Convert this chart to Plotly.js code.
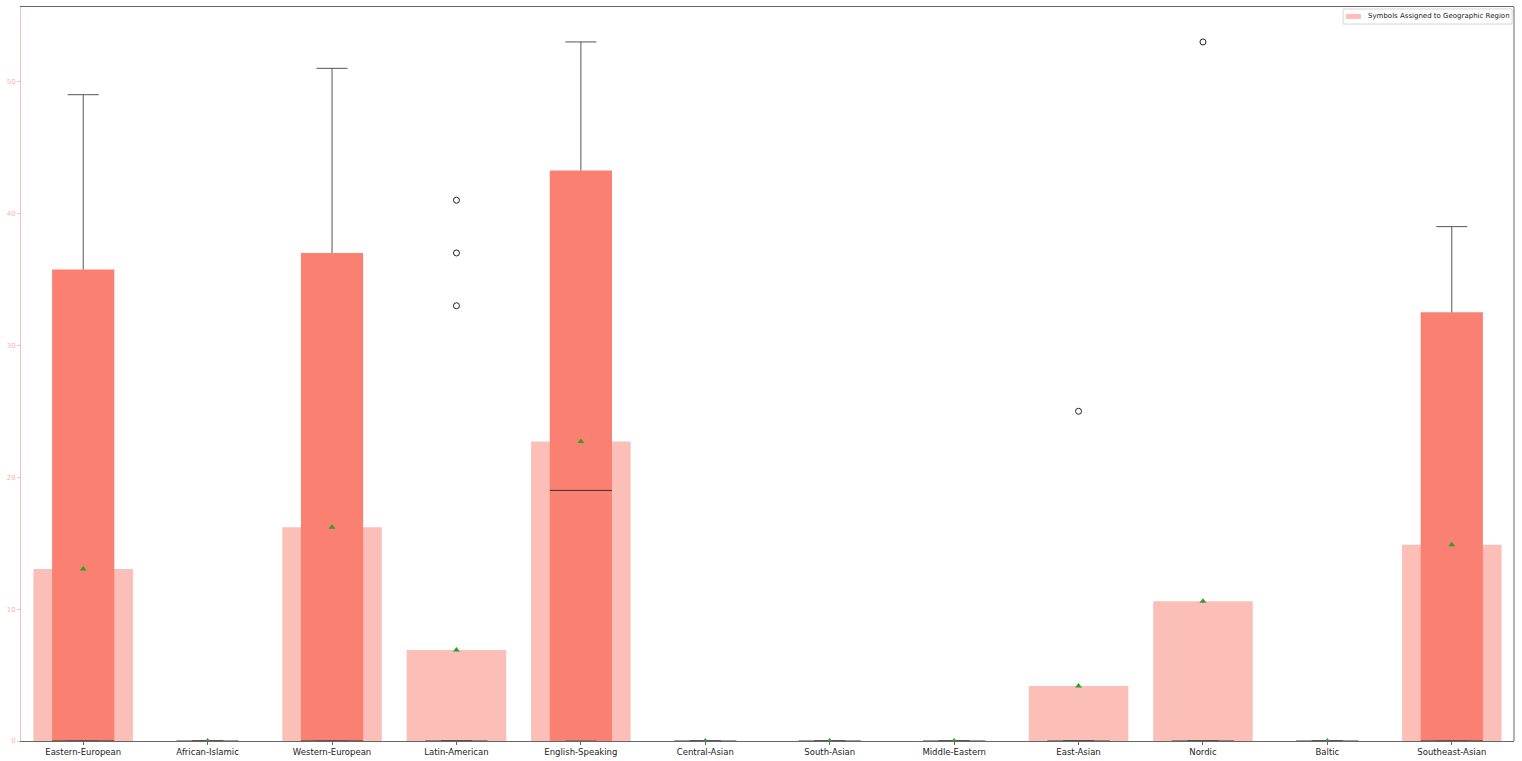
<!DOCTYPE html>
<html>
<head>
<meta charset="utf-8">
<script src="https://cdn.plot.ly/plotly-3.0.1.min.js"></script>
<style>html,body{margin:0;padding:0;background:#fff;}#chart{width:1522px;height:761px;}</style>
</head>
<body>
<div id="chart"></div>
<script>
// ---- Data ----
const categories = ["Eastern-European","African-Islamic","Western-European","Latin-American","English-Speaking","Central-Asian","South-Asian","Middle-Eastern","East-Asian","Nordic","Baltic","Southeast-Asian"];
const meanValues   = [13.05, 0, 16.2, 6.9, 22.7, 0, 0, 0, 4.17, 10.6, 0, 14.87];
const q1Values     = [0, 0, 0, 0, 0, 0, 0, 0, 0, 0, 0, 0];
const medianValues = [0, 0, 0, 0, 19, 0, 0, 0, 0, 0, 0, 0];
const q3Values     = [35.75, 0, 37.0, 0, 43.25, 0, 0, 0, 0, 0, 0, 32.5];
const whiskerLow   = [0, 0, 0, 0, 0, 0, 0, 0, 0, 0, 0, 0];
const whiskerHigh  = [49, 0, 51, 0, 53, 0, 0, 0, 0, 0, 0, 39];
const outlierCategory = ["Latin-American","Latin-American","Latin-American","East-Asian","Nordic"];
const outlierValues   = [41, 37, 33, 25, 53];
const legendLabel = "Symbols Assigned to Geographic Region";

// ---- Build traces ----
const pos = categories.map((c, i) => i + 1);
const boxW = 0.5, capW = 0.25;
const lightColor = 'rgba(250,128,114,0.5)';

const wx = [], wy = [], cx = [], cy = [], mx = [], my = [];
pos.forEach((p, i) => {
  wx.push(p, p, null, p, p, null);
  wy.push(q3Values[i], whiskerHigh[i], null, q1Values[i], whiskerLow[i], null);
  cx.push(p - capW/2, p + capW/2, null, p - capW/2, p + capW/2, null);
  cy.push(whiskerHigh[i], whiskerHigh[i], null, whiskerLow[i], whiskerLow[i], null);
  mx.push(p - boxW/2, p + boxW/2, null);
  my.push(medianValues[i], medianValues[i], null);
});

const traces = [
  {
    type: 'bar', x: pos, y: meanValues, width: 0.8, name: legendLabel,
    marker: {color: lightColor, line: {width: 0}}, hoverinfo: 'skip'
  },
  {
    type: 'bar', x: pos, base: q1Values, y: q3Values.map((v, i) => v - q1Values[i]), width: boxW,
    marker: {color: '#FA8072', line: {width: 0}}, hoverinfo: 'skip'
  },
  {
    type: 'scatter', mode: 'lines', x: wx, y: wy, line: {color: '#555555', width: 1},
    hoverinfo: 'skip', connectgaps: false
  },
  {
    type: 'scatter', mode: 'lines', x: cx, y: cy, line: {color: '#555555', width: 1},
    hoverinfo: 'skip', connectgaps: false
  },
  {
    type: 'scatter', mode: 'lines', x: mx, y: my, line: {color: '#333333', width: 1},
    hoverinfo: 'skip', connectgaps: false
  },
  {
    type: 'scatter', mode: 'markers', x: pos, y: meanValues,
    marker: {symbol: 'triangle-up', color: '#2ca02c', size: 6, line: {width: 0}},
    hoverinfo: 'skip'
  },
  {
    type: 'scatter', mode: 'markers',
    x: outlierCategory.map(c => categories.indexOf(c) + 1), y: outlierValues,
    marker: {symbol: 'circle-open', color: '#222222', size: 6, line: {width: 1}},
    hoverinfo: 'skip'
  }
];

const layout = {
  width: 1522, height: 761,
  margin: {l: 21, r: 8, t: 7, b: 20, pad: 0},
  paper_bgcolor: '#ffffff', plot_bgcolor: '#ffffff',
  barmode: 'overlay',
  font: {family: 'DejaVu Sans', size: 8, color: '#222'},
  showlegend: false,
  xaxis: {
    range: [0.5, 12.5], tickmode: 'array', tickvals: pos, ticktext: categories,
    showgrid: false, zeroline: false, showline: true, mirror: true,
    linecolor: '#666666', linewidth: 1,
    ticks: 'outside', ticklen: 3, tickcolor: '#666666',
    tickfont: {family: 'DejaVu Sans', size: 8.5, color: '#222'}, automargin: false
  },
  yaxis: {
    range: [0, 55.65], dtick: 10, tick0: 0,
    showgrid: false, zeroline: false, showline: true,
    linecolor: 'rgba(250,128,114,0.5)', linewidth: 1,
    ticks: 'outside', ticklen: 3, tickcolor: 'rgba(250,128,114,0.5)',
    tickfont: {family: 'DejaVu Sans', size: 7, color: 'rgba(250,128,114,0.65)'},
    automargin: false
  },
  shapes: [
    {type: 'line', xref: 'paper', yref: 'paper', x0: 1, x1: 1, y0: 0, y1: 1,
     line: {color: '#666666', width: 1}},
    // legend frame
    {type: 'rect', xref: 'paper', yref: 'paper', x0: 0.8855, x1: 0.9987, y0: 0.9768, y1: 0.9973,
     line: {color: '#d5d5d5', width: 1}, fillcolor: 'rgba(255,255,255,0.8)'},
    // legend patch
    {type: 'rect', xref: 'paper', yref: 'paper', x0: 0.8875, x1: 0.8975, y0: 0.9837, y1: 0.9905,
     line: {width: 0}, fillcolor: lightColor}
  ],
  annotations: [
    {xref: 'paper', yref: 'paper', x: 0.9009, y: 0.9871, xanchor: 'left', yanchor: 'middle',
     text: legendLabel, showarrow: false, font: {family: 'DejaVu Sans', size: 7, color: '#222'}}
  ]
};

Plotly.newPlot('chart', traces, layout, {displayModeBar: false, staticPlot: true});
</script>
</body>
</html>
